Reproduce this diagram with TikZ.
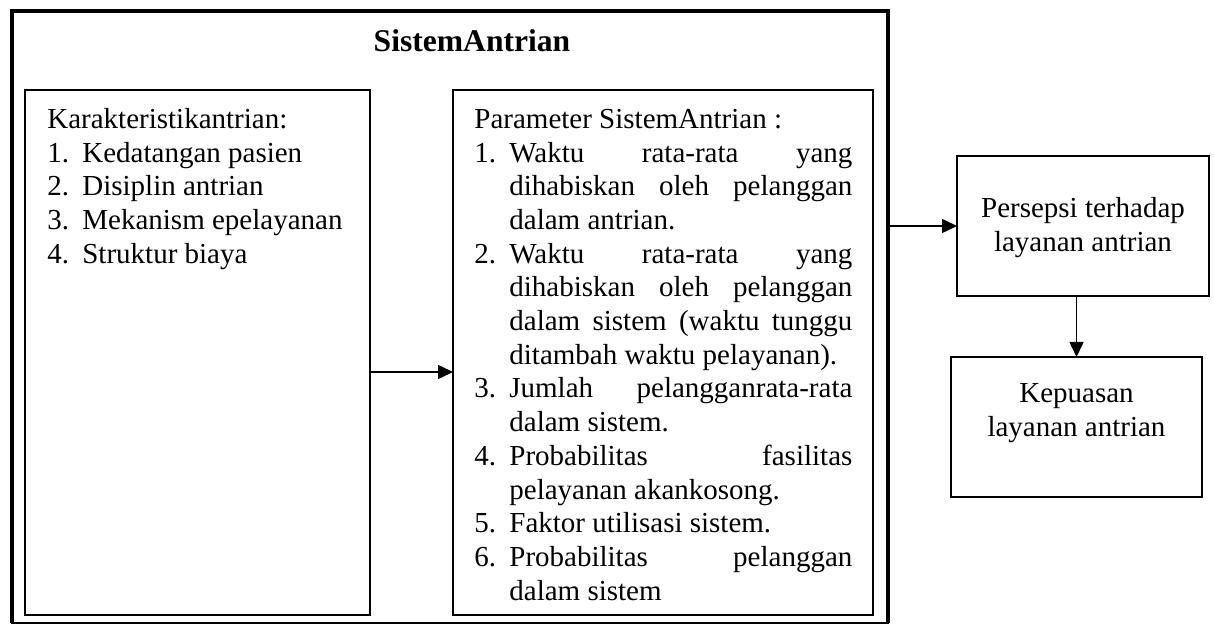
\documentclass[tikz,border=0pt]{standalone}
\usepackage{fontspec}
\setmainfont{Liberation Serif}
\usetikzlibrary{arrows.meta,positioning}

\newcommand{\butir}[2]{\par\hangindent=17.5pt\hangafter=1\noindent\makebox[17.5pt][l]{#1}#2}

\begin{document}
\begin{tikzpicture}[x=0.5pt,y=-0.5pt,%
		   kotak/.style={draw,line width=0.75pt,rectangle,inner sep=0pt,outer sep=0pt},
		   isi/.style={anchor=north west,inner sep=0pt,align=justify,font=\fontsize{14.5}{16.85}\selectfont},
		   kecil/.style={kotak,align=center,minimum width=126pt,minimum height=70pt,font=\fontsize{14.5}{16.85}\selectfont},
		   panah/.style={-{Triangle[length=7.5pt,width=7pt]},line width=0.75pt}]

	\useasboundingbox (0,0) rectangle (1214,625);

	% kotak besar sistem antrian
	\node[kotak,minimum width=438pt,minimum height=306pt] (sistem) at (450,317) {};
	\draw[line width=2pt] (sistem.south west) -- (sistem.north west) -- (sistem.north east) -- (sistem.south east);
	\node[font=\bfseries\fontsize{15.8}{19}\selectfont,anchor=base] (judul) at (472,52) {SistemAntrian};

	\node[kotak,minimum width=172.5pt,minimum height=262.5pt] (karakter) at (197.5,352.5) {};
	\node[kotak,minimum width=210pt,minimum height=262.5pt] (parameter) at (663,352.5) {};

	\node[isi,text width=160pt] (karakter-isi) at (47,104.4) {%
		\strut Karakteristikantrian:
		\butir{1.}{Kedatangan pasien}
		\butir{2.}{Disiplin antrian}
		\butir{3.}{Mekanism epelayanan}
		\butir{4.}{Struktur biaya}\par};

	\node[isi,text width=189pt] (parameter-isi) at (474,104.4) {%
		\tolerance=10000\hyphenpenalty=10000\exhyphenpenalty=10000
		\strut Parameter SistemAntrian :
		\butir{1.}{Waktu rata-rata yang\linebreak dihabiskan oleh pelanggan\linebreak dalam antrian.}
		\butir{2.}{Waktu rata-rata yang\linebreak dihabiskan oleh pelanggan\linebreak dalam sistem (waktu tunggu\linebreak ditambah waktu pelayanan).}
		\butir{3.}{Jumlah pelangganrata-rata\linebreak dalam sistem.}
		\butir{4.}{Probabilitas fasilitas\linebreak pelayanan akankosong.}
		\butir{5.}{Faktor utilisasi sistem.}
		\butir{6.}{Probabilitas pelanggan\linebreak dalam sistem}\par};

	% kotak di luar sistem
	\node[kecil] (persepsi) at (1083,226) {\strut Persepsi terhadap\\layanan antrian};
	\node[kecil,minimum width=125.5pt] (kepuasan) at (1076.5,427) {Kepuasan\\layanan antrian\\~};

	\draw[panah] ([yshift=-9.75pt]karakter.east) -- ([yshift=-9.75pt]parameter.west);
	\draw[panah] (sistem.east |- persepsi.west) -- (persepsi.west);
	\draw[panah] (kepuasan.north |- persepsi.south) -- (kepuasan.north);
\end{tikzpicture}
\end{document}
